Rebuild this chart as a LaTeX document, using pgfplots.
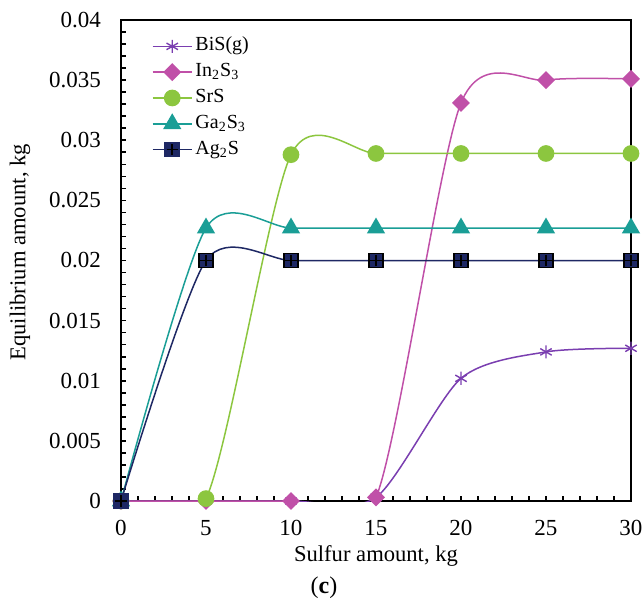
\documentclass[border=0pt]{standalone}
\usepackage{fontspec}
\setmainfont{Liberation Serif}
\usepackage{pgfplots}
\pgfplotsset{compat=1.18}

\definecolor{bisc}{RGB}{122,62,176}
\definecolor{inc}{RGB}{192,80,168}
\definecolor{src}{RGB}{140,198,63}
\definecolor{gac}{RGB}{26,158,150}
\definecolor{agc}{RGB}{30,40,100}

% filled square with a black cross
\pgfdeclareplotmark{sqplus}{%
  \pgfpathrectangle{\pgfqpoint{-\pgfplotmarksize}{-\pgfplotmarksize}}{\pgfqpoint{2\pgfplotmarksize}{2\pgfplotmarksize}}%
  \pgfusepathqfillstroke
  \pgfsetstrokecolor{black}%
  \pgfsetlinewidth{0.8pt}%
  \pgfpathmoveto{\pgfqpoint{-0.8\pgfplotmarksize}{0pt}}%
  \pgfpathlineto{\pgfqpoint{0.8\pgfplotmarksize}{0pt}}%
  \pgfpathmoveto{\pgfqpoint{0pt}{-0.8\pgfplotmarksize}}%
  \pgfpathlineto{\pgfqpoint{0pt}{0.8\pgfplotmarksize}}%
  \pgfusepathqstroke
}

\tikzset{curve/.style={smooth, tension=0.45}}

\begin{document}
\begin{tikzpicture}
\begin{axis}[
  scale only axis, width=255pt, height=240.5pt,
  font=\fontsize{11.5}{13.8}\selectfont,
  xmin=0, xmax=30, ymin=0, ymax=0.04,
  xtick={0,5,10,15,20,25,30},
  ytick={0,0.005,0.01,0.015,0.02,0.025,0.03,0.035,0.04},
  yticklabels={0,0.005,0.01,0.015,0.02,0.025,0.03,0.035,0.04},
  minor x tick num=4, minor y tick num=4,
  tick align=inside, xtick pos=bottom, ytick pos=left,
  major tick length=2.5pt, minor tick length=2.5pt,
  tick style={black, line width=0.8pt},
  axis line style={line width=1pt},
  scaled y ticks=false,
  /pgf/number format/assume math mode=true,
  xticklabel style={anchor=center, yshift=-13.5pt},
  yticklabel style={anchor=east, xshift=-6.5pt},
  xlabel={Sulfur amount, kg},
  ylabel={Equilibrium amount, kg},
  label style={font=\fontsize{11.3}{13.5}\selectfont},
  xlabel style={at={(axis description cs:0.5,-0.1143)}, anchor=center},
  ylabel style={at={(axis description cs:-0.198,0.517)}, anchor=center},
  clip mode=individual,
  every axis plot/.append style={line width=0.75pt},
  legend style={draw=none, fill=none, font=\fontsize{10}{12}\selectfont,
    at={(axis description cs:0.06,0.972)}, anchor=north west,
    inner sep=0pt, row sep=0.4pt,
    nodes={inner sep=1.5pt, text height=7pt, text depth=2.5pt}},
  legend cell align=left,
  legend image code/.code={\draw[mark repeat=2,mark phase=2,#1]
    plot coordinates {(0pt,0pt) (9.75pt,0pt) (19.5pt,0pt)};},
]
\addplot[curve, bisc, mark=asterisk, mark size=3.3pt, mark options={line width=0.7pt}]
  coordinates {(0,0) (5,0) (10,0) (15,0.0003) (20,0.0102) (25,0.0124) (30,0.0127)};
\addlegendentry{BiS(g)}
\addplot[curve, inc, mark=square*, mark size=2.8pt, mark options={rotate=45, fill=inc}]
  coordinates {(0,0) (5,0) (10,0) (15,0.0003) (20,0.0331) (25,0.0350) (30,0.0351)};
\addlegendentry{In\textsubscript{2}S\textsubscript{3}}
\addplot[curve, src, mark=*, mark size=3.8pt, mark options={fill=src}]
  coordinates {(0,0) (5,0.0002) (10,0.0288) (15,0.0289) (20,0.0289) (25,0.0289) (30,0.0289)};
\addlegendentry{SrS}
\addplot[curve, gac, mark=triangle*, mark size=4.5pt, mark options={fill=gac}]
  coordinates {(0,0) (5,0.0227) (10,0.0227) (15,0.0227) (20,0.0227) (25,0.0227) (30,0.0227)};
\addlegendentry{Ga\textsubscript{2}S\textsubscript{3}}
\addplot[curve, agc, mark=sqplus, mark size=3.5pt, mark options={fill=agc}]
  coordinates {(0,0) (5,0.0200) (10,0.0200) (15,0.0200) (20,0.0200) (25,0.0200) (30,0.0200)};
\addlegendentry{Ag\textsubscript{2}S}
\node[font=\fontsize{12}{14}\selectfont, anchor=center] at (axis description cs:0.398,-0.181) {(\textbf{c})};
\end{axis}
\pgfresetboundingbox
\path[use as bounding box] (-60.5pt,-50pt) rectangle (261.5pt,250.5pt);
\end{tikzpicture}
\end{document}
